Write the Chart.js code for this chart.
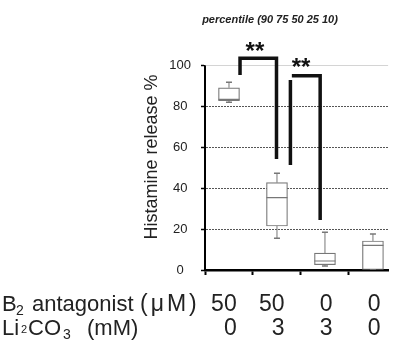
<!DOCTYPE html>
<html>
<head>
<meta charset="utf-8">
<script src="https://cdn.jsdelivr.net/npm/chart.js@4.4.1/dist/chart.umd.min.js"></script>
<style>
  html, body { margin: 0; padding: 0; background: #fff; }
  #wrap { width: 400px; height: 340px; position: relative; overflow: hidden; }
</style>
</head>
<body>
<div id="wrap"><canvas id="boxChart"></canvas></div>
<script>
// groups and percentiles (90 75 50 25 10)
const groups = [0, 1, 2, 3];
const p90 = [91.8, 47.3, 18.4, 17.6];
const p75 = [89.1, 42.7, 8.3, 14.2];
const p50 = [83.4, 35.4, 4.4, 12.0];
const p25 = [82.8, 21.5, 2.6, 0];
const p10 = [82.0, 15.5, 2.0, 0];

// condition rows under the axis
const antagonistRow = ['50', '50', '0', '0'];
const lithiumRow = ['0', '3', '3', '0'];

// significance brackets, x in group units, y in %
const bracketA = [[0.23, 95.4], [0.23, 103.5], [0.99, 103.5], [0.99, 54.3]];
const bracketBLeft = [[1.28, 92.9], [1.28, 51.3]];
const bracketBRight = [[1.31, 95.0], [1.9, 95.0], [1.9, 24.4]];
const starMarks = [[0.54, 109.5], [1.5, 101.7]];

const xMin = -0.5;
const xMax = 3.32;
const boxGray = '#777';
const font = 'Liberation Sans, Arial, sans-serif';

function segments(lo, hi) {
    const pts = [];
    groups.forEach((g, i) => {
        pts.push({x: g, y: lo[i]}, {x: g, y: hi[i]}, {x: g, y: null});
    });
    return pts;
}

function toPoints(arr) {
    return arr.map(p => ({x: p[0], y: p[1]}));
}

function bracketDataset(arr) {
    return {
        type: 'line',
        data: toPoints(arr),
        borderColor: '#111',
        borderWidth: 3.5,
        borderCapStyle: 'butt',
        borderJoinStyle: 'miter',
        pointRadius: 0,
        clip: false,
        order: 0
    };
}

const annotationText = {
    id: 'annotationText',
    afterDraw(chart) {
        const {ctx, scales: {x, y}} = chart;
        ctx.save();
        ctx.fillStyle = '#222';

        ctx.font = 'italic bold 11px ' + font;
        ctx.textAlign = 'center';
        ctx.fillText('percentile (90 75 50 25 10)', 270, 23);

        // y axis title
        ctx.save();
        ctx.translate(157, 157);
        ctx.rotate(-Math.PI / 2);
        ctx.font = '18px ' + font;
        ctx.fillText('Histamine release %', 0, 0);
        ctx.restore();

        // stars
        ctx.fillStyle = '#111';
        ctx.font = 'bold 24px ' + font;
        starMarks.forEach(s => {
            ctx.fillText('**', x.getPixelForValue(s[0]), y.getPixelForValue(s[1]) + 13);
        });

        // condition rows
        ctx.fillStyle = '#222';
        ctx.textAlign = 'left';
        ctx.font = '22px ' + font;
        ctx.fillText('B', 2, 311);
        ctx.fillText('antagonist', 32, 311);
        ctx.fillText('Li', 2, 335);
        ctx.fillText('CO', 28, 335);
        ctx.fillText('(mM)', 87, 335);
        ctx.save();
        ctx.font = '23px ' + font;
        ctx.letterSpacing = '3px';
        ctx.fillText('(\u03bcM)', 140, 311);
        ctx.restore();
        ctx.font = '14px ' + font;
        ctx.fillText('2', 16, 315);
        ctx.fillText('3', 63, 339);
        ctx.font = '11px ' + font;
        ctx.fillText('2', 21, 333);

        ctx.font = '23px ' + font;
        ctx.textAlign = 'right';
        groups.forEach((g, i) => {
            const px = x.getPixelForValue(g + 0.16);
            ctx.fillText(antagonistRow[i], px, 311);
            ctx.fillText(lithiumRow[i], px, 335);
        });
        ctx.restore();
    }
};

const ctx = document.getElementById('boxChart').getContext('2d');
new Chart(ctx, {
    type: 'bar',
    data: {
        datasets: [
            {
                type: 'bar',
                data: groups.map((g, i) => ({x: g, y: [p25[i], p75[i]]})),
                backgroundColor: '#fff',
                borderColor: boxGray,
                borderWidth: 1.2,
                borderSkipped: false,
                barThickness: 21,
                order: 3
            },
            {
                type: 'line',
                data: segments(p75, p90),
                borderColor: boxGray,
                borderWidth: 1,
                pointRadius: 0,
                order: 2
            },
            {
                type: 'line',
                data: segments(p10, p25),
                borderColor: boxGray,
                borderWidth: 1,
                pointRadius: 0,
                order: 2
            },
            {
                type: 'line',
                showLine: false,
                data: groups.map((g, i) => ({x: g, y: p90[i]}))
                    .concat(groups.map((g, i) => ({x: g, y: p10[i]}))),
                pointStyle: 'line',
                pointRadius: 3,
                pointBorderWidth: 1.5,
                pointBorderColor: boxGray,
                order: 1
            },
            {
                type: 'line',
                showLine: false,
                data: groups.map((g, i) => ({x: g, y: p50[i]})),
                pointStyle: 'line',
                pointRadius: 10.5,
                pointBorderWidth: 1.2,
                pointBorderColor: boxGray,
                order: 1
            },
            {
                type: 'line',
                data: [{x: xMin, y: 100}, {x: xMax, y: 100}],
                borderColor: '#aaa',
                borderWidth: 1,
                pointRadius: 0,
                order: 4
            },
            bracketDataset(bracketA),
            bracketDataset(bracketBLeft),
            bracketDataset(bracketBRight)
        ]
    },
    options: {
        responsive: true,
        maintainAspectRatio: false,
        animation: false,
        layout: {
            padding: {top: 65.5, left: 0, right: 0, bottom: 0}
        },
        plugins: {
            legend: {display: false},
            tooltip: {enabled: false}
        },
        scales: {
            x: {
                type: 'linear',
                min: xMin,
                max: xMax,
                offset: false,
                ticks: {display: false},
                grid: {
                    offset: false,
                    drawOnChartArea: false,
                    drawTicks: true,
                    tickLength: 5,
                    tickColor: '#000',
                    tickWidth: 2
                },
                border: {color: '#000', width: 2.5},
                afterBuildTicks(scale) {
                    scale.ticks = [-0.5, 0.5, 1.5, 2.5].map(v => ({value: v}));
                },
                afterFit(scale) {
                    scale.height = 70;
                }
            },
            y: {
                min: 0,
                max: 100,
                ticks: {
                    stepSize: 20,
                    color: '#222',
                    font: {family: font, size: 13},
                    padding: 10,
                    crossAlign: 'center'
                },
                grid: {
                    color: c => (c.tick && (c.tick.value === 0 || c.tick.value === 100)) ? 'rgba(0,0,0,0)' : '#555',
                    lineWidth: 1,
                    drawTicks: true,
                    tickLength: 4,
                    tickColor: '#000',
                    tickWidth: 1.5
                },
                border: {color: '#000', width: 2, dash: [2, 1]},
                afterFit(scale) {
                    scale.width = 205;
                }
            }
        }
    },
    plugins: [annotationText]
});
</script>
</body>
</html>
